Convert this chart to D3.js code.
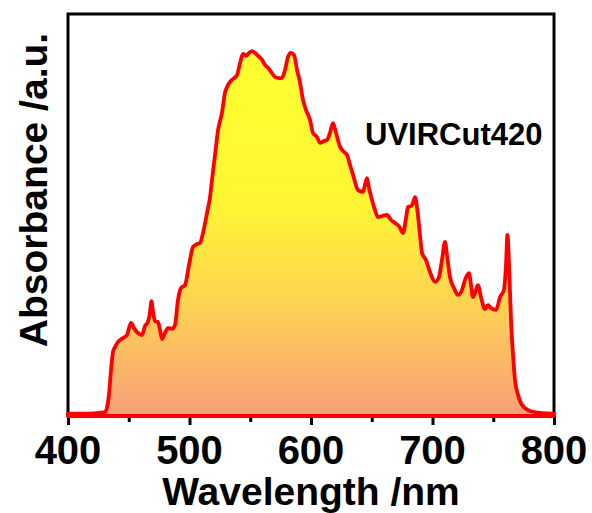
<!DOCTYPE html>
<html>
<head>
<meta charset="utf-8">
<script src="https://cdn.jsdelivr.net/npm/d3@7.9.0/dist/d3.min.js"></script>
<style>
  html, body { margin: 0; padding: 0; background: #fff; }
  text { font-family: "Liberation Sans", Arial, sans-serif; font-weight: bold; fill: #000; }
</style>
</head>
<body>
<svg id="chart" width="592" height="513"></svg>
<script>
// wavelength (nm) and absorbance (a.u.)
const wavelength = [400, 418, 426, 430.5, 432, 433.7, 435.4, 437, 438.7, 441.2, 445.3, 448.6, 450.2, 451.9, 454.3, 456.8,
  460.9, 463.4, 465.8, 467.5, 468.7, 470, 471.6, 474.1, 475.7, 477.4, 479.8, 482.3, 485.6, 488.1, 490.5, 493,
  496.3, 499.6, 502.9, 506.2, 508.6, 511.1, 514.4, 516.9, 518.5, 521, 523.5, 526.7, 529.2, 531.7, 535, 539.1,
  541.6, 544, 546.5, 549, 551.4, 553.9, 556.4, 559.7, 562.1, 564.6, 567.1, 570.4, 573.7, 576.1, 578.6, 581.1,
  583.5, 586, 588.5, 590.9, 593.4, 595.9, 599.2, 601.6, 604.9, 607.4, 610.7, 613.2, 615.6, 618.1, 620.6, 623.9,
  627.2, 629.6, 632.1, 634.6, 638.7, 642.8, 644.4, 646.1, 647.7, 650.2, 652.7, 655.1, 658.4, 662.6, 665.8, 669.1,
  672.4, 675.7, 678.2, 679.8, 682.3, 684, 685.6, 687.2, 689.7, 691.4, 694.6, 697.9, 702.1, 705.3, 707.8, 710.3,
  711.9, 714.4, 717.7, 721, 724.3, 726.7, 730, 731.7, 733.3, 735.8, 737.4, 739.9, 743.2, 745.7, 748.1, 752.3,
  755.6, 758.8, 760.5, 761.7, 763, 764.6, 766.3, 767.9, 770.4, 772.8, 776.1, 780.2, 788.4, 800];
const absorbance = [0.001, 0.001, 0.003, 0.005, 0.016, 0.052, 0.121, 0.170, 0.184, 0.198, 0.209, 0.217, 0.236, 0.250, 0.236, 0.225,
  0.217, 0.242, 0.253, 0.280, 0.310, 0.280, 0.255, 0.253, 0.231, 0.206, 0.223, 0.236, 0.234, 0.245, 0.313, 0.346,
  0.354, 0.409, 0.459, 0.467, 0.470, 0.497, 0.552, 0.596, 0.643, 0.712, 0.780, 0.827, 0.882, 0.904, 0.918, 0.931,
  0.964, 0.989, 0.984, 0.992, 0.997, 0.992, 0.984, 0.973, 0.959, 0.951, 0.940, 0.926, 0.923, 0.923, 0.945, 0.981,
  0.992, 0.986, 0.945, 0.912, 0.863, 0.835, 0.808, 0.772, 0.761, 0.745, 0.750, 0.753, 0.772, 0.799, 0.772, 0.734,
  0.720, 0.712, 0.684, 0.657, 0.615, 0.610, 0.629, 0.648, 0.621, 0.588, 0.560, 0.541, 0.544, 0.547, 0.533, 0.525,
  0.516, 0.497, 0.538, 0.569, 0.571, 0.580, 0.596, 0.569, 0.492, 0.442, 0.423, 0.390, 0.363, 0.376, 0.423, 0.473,
  0.437, 0.376, 0.346, 0.327, 0.341, 0.368, 0.387, 0.354, 0.321, 0.341, 0.354, 0.321, 0.288, 0.299, 0.291, 0.286,
  0.321, 0.341, 0.409, 0.492, 0.409, 0.258, 0.162, 0.093, 0.052, 0.030, 0.016, 0.008, 0.003, 0.001];
const xTicks = [400, 500, 600, 700, 800];
const xMinorTicks = [450, 550, 650, 750];
const sampleName = "UVIRCut420";

const data = wavelength.map((w, i) => ({ w: w, a: absorbance[i] }));

const svg = d3.select('#chart');
const mLeft = 68, mRight = 554, mTop = 14, mBottom = 416;

const x = d3.scaleLinear().domain([400, 800]).range([mLeft, mRight]);
const y = d3.scaleLinear().domain([-0.0055, 1]).range([mBottom, 50]);

// gradient fill under the curve
const grad = svg.append('defs').append('linearGradient')
  .attr('id', 'fillGrad')
  .attr('gradientUnits', 'userSpaceOnUse')
  .attr('x1', 0).attr('x2', 0)
  .attr('y1', y(1)).attr('y2', y(y.domain()[0]));
grad.append('stop').attr('offset', '0%').attr('stop-color', '#ffff30');
grad.append('stop').attr('offset', '42%').attr('stop-color', '#fff534');
grad.append('stop').attr('offset', '68%').attr('stop-color', '#fdd551');
grad.append('stop').attr('offset', '100%').attr('stop-color', '#f89f7a');

// x axis ticks
svg.append('g')
  .attr('transform', `translate(0,${mBottom})`)
  .call(d3.axisBottom(x).tickValues(xTicks).tickSize(9).tickFormat(''))
  .call(g => g.select('.domain').remove())
  .call(g => g.selectAll('line').attr('stroke', '#000').attr('stroke-width', 3));
svg.append('g')
  .attr('transform', `translate(0,${mBottom})`)
  .call(d3.axisBottom(x).tickValues(xMinorTicks).tickSize(6).tickFormat(''))
  .call(g => g.select('.domain').remove())
  .call(g => g.selectAll('line').attr('stroke', '#000').attr('stroke-width', 3));

// frame
svg.append('rect')
  .attr('x', mLeft).attr('y', mTop)
  .attr('width', mRight - mLeft).attr('height', mBottom - mTop)
  .attr('fill', 'none').attr('stroke', '#000').attr('stroke-width', 3);

const area = d3.area()
  .x(d => x(d.w))
  .y0(y(y.domain()[0]))
  .y1(d => y(d.a))
  .curve(d3.curveMonotoneX);

svg.append('path')
  .datum(data)
  .attr('d', area)
  .attr('fill', 'url(#fillGrad)')
  .attr('stroke', '#ff0000')
  .attr('stroke-width', 3.8)
  .attr('stroke-linejoin', 'round');

// tick labels
svg.selectAll('.xlab')
  .data(xTicks)
  .join('text')
  .attr('class', 'xlab')
  .attr('x', d => x(d))
  .attr('y', 464)
  .attr('text-anchor', 'middle')
  .attr('font-size', 40)
  .text(d => d);

svg.append('text')
  .attr('x', 311).attr('y', 505)
  .attr('text-anchor', 'middle')
  .attr('font-size', 39)
  .text('Wavelength /nm');

svg.append('text')
  .attr('transform', 'translate(47,190) rotate(-90)')
  .attr('text-anchor', 'middle')
  .attr('font-size', 39)
  .text('Absorbance /a.u.');

svg.append('text')
  .attr('x', 365).attr('y', 145)
  .attr('font-size', 31)
  .text(sampleName);
</script>
</body>
</html>
